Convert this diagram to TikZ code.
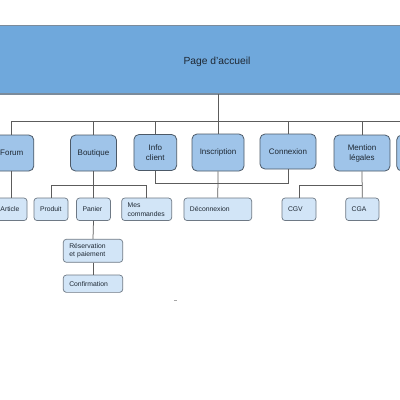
\documentclass[tikz,border=0pt]{standalone}
\usepackage{fontspec}
\setmainfont{Liberation Sans}
\definecolor{hfill}{HTML}{6FA8DC}
\definecolor{hline}{HTML}{7B8B9B}
\definecolor{cAf}{HTML}{9FC4E9}
\definecolor{cAb}{HTML}{4C5967}
\definecolor{cBf}{HTML}{D2E5F7}
\definecolor{cBb}{HTML}{6E7985}
\definecolor{txt}{HTML}{1E2833}
\definecolor{wirec}{HTML}{5C5C5C}
\tikzset{
  homebox/.style={fill=hfill, draw=none, inner sep=0pt},
  hometext/.style={text=txt, font=\fontsize{10.3}{12}\selectfont},
  lvlone/.style={draw=cAb, fill=cAf, rounded corners=5pt, line width=0.8pt, minimum height=36pt, inner sep=1pt, align=center, text=txt, font=\fontsize{8}{10}\selectfont},
  lvltwo/.style={draw=cBb, fill=cBf, rounded corners=3pt, line width=0.7pt, minimum height=22.5pt, inner xsep=6pt, inner ysep=1pt, align=left, text=txt, font=\fontsize{6.8}{9}\selectfont},
  wire/.style={draw=wirec, line width=0.75pt},
}
\begin{document}
\begin{tikzpicture}[x=1pt,y=-1pt]
\useasboundingbox (0,0) rectangle (400,400);
\fill[white] (0,0) rectangle (400,400);
\clip (0,0) rectangle (400,400);
% header
\node[homebox, minimum width=470pt, minimum height=68.5pt,
      label={[hometext, yshift=-1.8pt]center:Page d’accueil}] (home) at (217,59.75) {};
\draw[draw=hline, line width=1.5pt] (home.north west) -- (home.north east);
\draw[draw=hline, line width=1.8pt] (home.south west) -- (home.south east);
% level 1
\node[lvlone, minimum width=44pt] (forum) at (11.8,153) {Forum};
\node[lvlone, minimum width=46pt] (bout) at (93.5,153) {Boutique};
\node[lvlone, minimum width=42.7pt] (info) at (155.3,152.5) {Info\\client};
\node[lvlone, minimum width=52pt, minimum height=37pt] (insc) at (218,152.5) {Inscription};
\node[lvlone, minimum width=56pt, minimum height=35pt] (conn) at (288,151.5) {Connexion};
\node[lvlone, minimum width=56pt] (ment) at (362,153) {Mention\\légales};
\node[lvlone, minimum width=56pt] (rest) at (424.7,153) {};
% level 2
\node[lvltwo, text width=20.5pt] (article) at (10.75,209.3) {Article};
\node[lvltwo, text width=22pt] (produit) at (51,209.3) {Produit};
\node[lvltwo, text width=22pt] (panier) at (93.5,209.3) {Panier};
\node[lvltwo, text width=38pt] (mesc) at (146.7,209.3) {Mes\\commandes};
\node[lvltwo, text width=55.7pt] (deco) at (217.8,209.3) {Déconnexion};
\node[lvltwo, text width=22pt] (cgv) at (299,209.3) {CGV};
\node[lvltwo, text width=21.3pt] (cga) at (362.3,209.3) {CGA};
% level 3
\node[lvltwo, text width=47.4pt, minimum height=23pt, font=\fontsize{6.8}{8.4}\selectfont] (resa) at (93,250.8) {Réservation\\et paiement};
\node[lvltwo, text width=47.4pt, minimum height=17.3pt] (conf) at (93,283.7) {Confirmation};
% connectors
\coordinate (busy) at (0,121);
\coordinate (suby) at (0,185);
\coordinate (infoy) at (0,183);
\draw[wire] (home.south -| insc.north) -- (insc.north);
\draw[wire] (forum.north |- busy) -- (rest.north |- busy);
\foreach \n in {forum,bout,info,conn,ment,rest} \draw[wire] (\n.north |- busy) -- (\n.north);
\draw[wire] (forum.south) -- (forum.south |- article.north);
\draw[wire] (bout.south) -- (panier.north);
\draw[wire] (panier.south) -- (resa.north);
\draw[wire] (resa.south) -- (conf.north);
\draw[wire] (produit.north) -- (produit.north |- suby) -- (mesc.north |- suby) -- (mesc.north);
\draw[wire] (info.south) |- (conn.south |- infoy) -- (conn.south);
\draw[wire] (insc.south) -- (deco.north);
\draw[wire] (ment.south) -- (cga.north);
\draw[wire] (cgv.north) -- (cgv.north |- suby) -- (cga.north |- suby);
% stray mark
\draw[gray!70, line width=0.6pt] (173.8,300) -- (176.6,300);
\end{tikzpicture}
\end{document}
